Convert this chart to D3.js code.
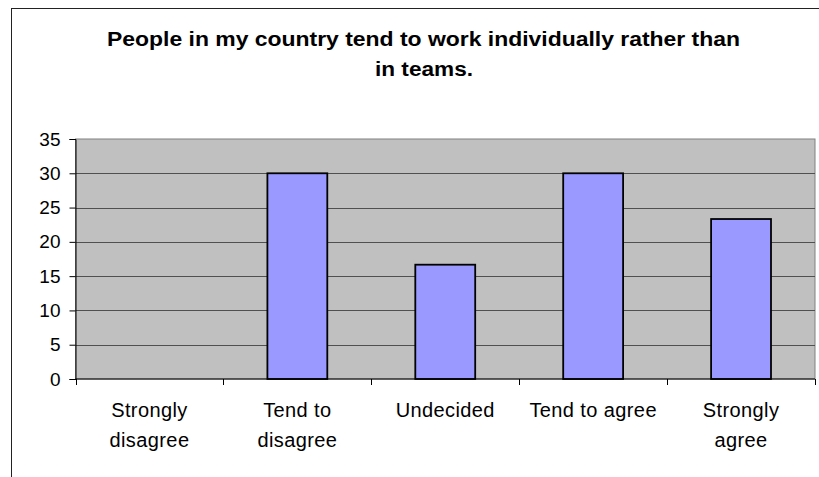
<!DOCTYPE html>
<html>
<head>
<meta charset="utf-8">
<script src="https://cdn.jsdelivr.net/npm/d3@7"></script>
<style>
  html, body { margin: 0; padding: 0; background: #fff; }
  svg { display: block; font-family: "Liberation Sans", Arial, sans-serif; }
</style>
</head>
<body>
<svg id="chart" width="819" height="477"></svg>
<script>
// Survey responses (percent of respondents)
const categories = [["Strongly", "disagree"], ["Tend to", "disagree"], ["Undecided"], ["Tend to agree"], ["Strongly", "agree"]];
const values = [0, 30, 16.67, 30, 23.33];
const yTicks = [0, 5, 10, 15, 20, 25, 30, 35];
const titleLines = ["People in my country tend to work individually rather than", "in teams."];

const svg = d3.select("#chart");
const W = 819, H = 477;
const plot = { left: 75.5, right: 815, top: 139, bottom: 379 };

// outer chart frame
svg.append("rect")
  .attr("x", 11.5).attr("y", 8.5)
  .attr("width", W + 20).attr("height", H + 20)
  .attr("fill", "#fff").attr("stroke", "#222").attr("stroke-width", 1);

// title
const title = svg.append("g").attr("font-weight", "bold").attr("font-size", 20).attr("fill", "#000");
title.append("text").attr("x", 107).attr("y", 45.5)
  .attr("textLength", 633).attr("lengthAdjust", "spacingAndGlyphs").text(titleLines[0]);
title.append("text").attr("x", 375).attr("y", 76)
  .attr("textLength", 98).attr("lengthAdjust", "spacingAndGlyphs").text(titleLines[1]);

const keys = categories.map(c => c.join(" "));
const x = d3.scaleBand().domain(keys).range([plot.left, plot.right])
  .paddingInner(0.595).paddingOuter(0.2975);
const xCat = d3.scaleBand().domain(keys).range([plot.left, plot.right]).padding(0);
const y = d3.scaleLinear().domain([0, 35]).range([plot.bottom, plot.top]);

// plot background
svg.append("rect")
  .attr("x", plot.left).attr("y", plot.top)
  .attr("width", plot.right - plot.left).attr("height", plot.bottom - plot.top)
  .attr("fill", "#c0c0c0").attr("stroke", "#808080").attr("stroke-width", 1);

// gridlines
svg.append("g").selectAll("line").data(yTicks.filter(t => t > 0 && t < 35)).join("line")
  .attr("x1", plot.left).attr("x2", plot.right)
  .attr("y1", d => Math.round(y(d)) + 0.5).attr("y2", d => Math.round(y(d)) + 0.5)
  .attr("stroke", "#505050").attr("stroke-width", 1);

// bars
svg.append("g").selectAll("rect").data(values.map((v, i) => ({ k: keys[i], v })).filter(d => d.v > 0)).join("rect")
  .attr("x", d => x(d.k)).attr("width", x.bandwidth())
  .attr("y", d => y(d.v)).attr("height", d => y(0) - y(d.v))
  .attr("fill", "#9999ff").attr("stroke", "#000").attr("stroke-width", 1.8);

// y axis
const yAxis = svg.append("g").attr("transform", `translate(${plot.left},0)`)
  .call(d3.axisLeft(y).tickValues(yTicks).tickSize(6).tickPadding(9));
yAxis.select(".domain").attr("stroke", "#000");
yAxis.selectAll(".tick line").attr("stroke", "#000");
yAxis.selectAll(".tick text").attr("font-size", 19).attr("fill", "#000")
  .attr("font-family", "Liberation Sans, Arial, sans-serif");

// x axis with ticks at category boundaries
const xAxisG = svg.append("g");
xAxisG.append("line").attr("x1", plot.left).attr("x2", plot.right)
  .attr("y1", plot.bottom).attr("y2", plot.bottom).attr("stroke", "#000").attr("stroke-width", 1.2);
const bounds = keys.map(k => xCat(k)).concat([plot.right]);
xAxisG.selectAll("line.tk").data(bounds).join("line").attr("class", "tk")
  .attr("x1", d => Math.round(d) + 0.5).attr("x2", d => Math.round(d) + 0.5)
  .attr("y1", plot.bottom).attr("y2", plot.bottom + 6).attr("stroke", "#000");

// category labels
const labels = svg.append("g").attr("font-size", 20).attr("fill", "#000").attr("text-anchor", "middle");
categories.forEach((lines, i) => {
  const cx = xCat(keys[i]) + xCat.bandwidth() / 2;
  lines.forEach((t, j) => {
    labels.append("text").attr("x", cx).attr("y", 417 + j * 30).attr("letter-spacing", 0.4).text(t);
  });
});
</script>
</body>
</html>
